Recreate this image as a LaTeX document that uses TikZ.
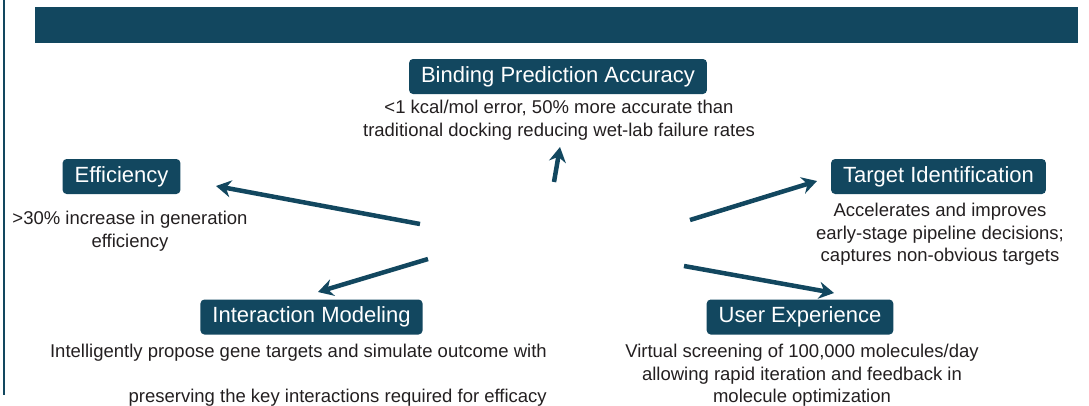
\documentclass[tikz,border=0pt]{standalone}
\usepackage{fontspec}
\setmainfont{Liberation Sans}
\usetikzlibrary{arrows.meta}
\begin{document}
\begin{tikzpicture}[x=1pt, y=-1pt]
  % Colors
  \definecolor{tealcol}{RGB}{18,71,95}
  \definecolor{txtcol}{RGB}{35,31,32}
  %
  \tikzset{
    tbox/.style={fill=tealcol, rounded corners=4pt, text=white, inner xsep=12pt,
                 minimum height=35pt, font=\fontsize{22}{24}\selectfont},
    desc/.style={text=txtcol, inner sep=0pt, align=center, anchor=north,
                 font=\fontsize{18.5}{22.5}\selectfont},
    bigarrow/.style={draw=tealcol, line width=4.5pt,
                     -{Stealth[length=15pt, width=17pt, inset=5pt]}},
  }
  %
  \useasboundingbox (0,0) rectangle (1089,405);
  %
  % === FRAME: side rule and top banner ===
  \draw[tealcol, line width=2.5pt] (4,0) -- (4,395);
  \fill[tealcol] (35,7) rectangle (1078,43);
  %
  % === BOXES ===
  \node[tbox] (binding) at (558,76.5) {Binding Prediction Accuracy};
  \node[tbox] (effic) at (121.5,176.5) {Efficiency};
  \node[tbox] (target) at (938.5,176.5) {Target Identification};
  \node[tbox] (interact) at (311.5,317) {Interaction Modeling};
  \node[tbox] (userexp) at (800,317) {User Experience};
  %
  % === DESCRIPTIONS ===
  \node[desc] (bindingtxt) at (559,100)
    {<1 kcal/mol error, 50\% more accurate than\\traditional docking reducing wet-lab failure rates};
  \node[desc] (effictxt) at (130,211) {>30\% increase in generation\\efficiency};
  \node[desc] (targettxt) at (940,203)
    {Accelerates and improves\\early-stage pipeline decisions;\\captures non-obvious targets};
  \node[desc, anchor=north east, align=right] (interacttxt) at (547,344)
    {Intelligently propose gene targets and simulate outcome with\\[22.5pt]preserving the key interactions required for efficacy};
  \node[desc] (userexptxt) at (802,344)
    {Virtual screening of 100,000 molecules/day\\allowing rapid iteration and feedback in\\molecule optimization};
  %
  % === ARROWS (free ends) ===
  \coordinate (bindtail) at (554,182);  \coordinate (bindtip) at (560,147);
  \coordinate (efftail) at (420,224);   \coordinate (efftip) at (216,186);
  \coordinate (inttail) at (428,259);   \coordinate (inttip) at (318,292);
  \coordinate (tgttail) at (690,220);   \coordinate (tgttip) at (817,181);
  \coordinate (usrtail) at (684,266);   \coordinate (usrtip) at (834,293);
  %
  \draw[bigarrow] (bindtail) -- (bindtip);
  \draw[bigarrow] (efftail) -- (efftip);
  \draw[bigarrow] (inttail) -- (inttip);
  \draw[bigarrow] (tgttail) -- (tgttip);
  \draw[bigarrow] (usrtail) -- (usrtip);
  %
\end{tikzpicture}
\end{document}
